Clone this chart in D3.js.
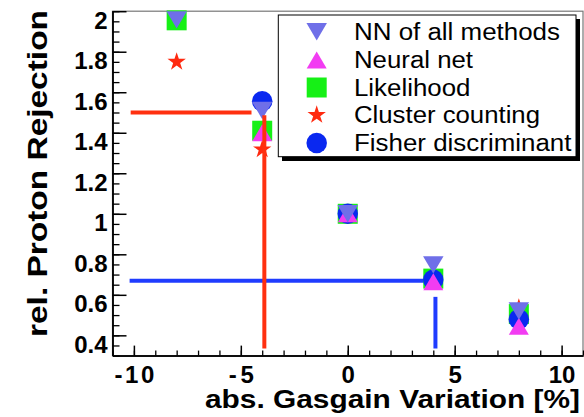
<!DOCTYPE html>
<html>
<head>
<meta charset="utf-8">
<script src="https://cdn.jsdelivr.net/npm/d3@7"></script>
<style>
  html, body { margin: 0; padding: 0; background: #fff; }
  svg { display: block; font-family: "Liberation Sans", Arial, Helvetica, sans-serif; }
</style>
</head>
<body>
<svg id="chart" width="584" height="417"></svg>
<script>
// ---- data ----
const gasgain = [-8, -4, 0, 4, 8];
const nnAll      = [1.957, 1.51, 1.0, 0.748, 0.52];
const neuralNet  = [null, 1.40, 1.0, 0.665, 0.445];
const likelihood = [1.955, 1.41, 1.0, 0.68, 0.505];
const clusterCnt = [1.75, 1.318, 1.0, 0.70, 0.535];
const fisher     = [null, 1.556, 1.0, 0.675, 0.48];
const seriesNames = ["NN of all methods", "Neural net", "Likelihood", "Cluster counting", "Fisher discriminant"];
const xTicks = [-10, -5, 0, 5, 10];
const yTicks = [0.4, 0.6, 0.8, 1, 1.2, 1.4, 1.6, 1.8, 2];
// guide lines (data coordinates)
const redH = { y: 1.5, x0: -10.15, x1: -4.5 };
const redV = { x: -3.9, y0: 1.487, y1: 0.335 };
const blueH = { y: 0.669, x0: -10.2, x1: 3.94 };
const blueV = { x: 4.1, y0: 0.59, y1: 0.335 };

// ---- layout ----
const L = 112.5, R = 583, T = 11.2, B = 355.6;
const svg = d3.select("#chart");
const x = d3.scaleLinear().domain([-11, 11]).range([L, R]);
const y = d3.scaleLinear().domain([0.3, 2.0]).range([B, T]);

// frame
svg.append("rect").attr("x", L).attr("y", T).attr("width", R - L).attr("height", B - T)
  .attr("fill", "none").attr("stroke", "#777").attr("stroke-width", 1.2);

// custom marker shapes (bbox-centred like ROOT)
const sqr = { draw(c, s) { const h = Math.sqrt(s) / 2; c.rect(-h, -h, 2 * h, 2 * h); } };
const triUp = { draw(c, s) { const w = Math.sqrt(s), h = w * 0.85; c.moveTo(0, -h / 2); c.lineTo(w / 2, h / 2); c.lineTo(-w / 2, h / 2); c.closePath(); } };
const triDn = { draw(c, s) { const w = Math.sqrt(s), h = w * 0.85; c.moveTo(0, h / 2); c.lineTo(w / 2, -h / 2); c.lineTo(-w / 2, -h / 2); c.closePath(); } };

const styles = [
  { data: nnAll,      type: triDn,           size: 420, color: "#6f6fe8" },
  { data: neuralNet,  type: triUp,           size: 400, color: "#f23cf2" },
  { data: likelihood, type: sqr,             size: 400, color: "#16f016" },
  { data: clusterCnt, type: d3.symbolStar,   size: 105, color: "#ff2a10" },
  { data: fisher,     type: d3.symbolCircle, size: 330, color: "#0a28f0" }
];
// drawing order: star, square, circle, triangle up, triangle down
const drawOrder = [3, 2, 4, 1, 0];

// blue guide lines under markers
const blueG = svg.append("g").attr("stroke", "#1f3cff").attr("stroke-width", 4);
blueG.append("line").attr("x1", x(blueH.x0)).attr("x2", x(blueH.x1)).attr("y1", y(blueH.y)).attr("y2", y(blueH.y));
blueG.append("line").attr("x1", x(blueV.x)).attr("x2", x(blueV.x)).attr("y1", y(blueV.y0)).attr("y2", y(blueV.y1));

// markers
drawOrder.forEach(i => {
  const st = styles[i];
  const pts = gasgain.map((g, k) => ({ g, v: st.data[k] })).filter(d => d.v !== null);
  svg.append("g").selectAll("path").data(pts).join("path")
    .attr("transform", d => `translate(${x(d.g)},${y(d.v)})`)
    .attr("d", d3.symbol().type(st.type).size(st.size))
    .attr("fill", st.color);
});

// red guide lines on top
const redG = svg.append("g").attr("stroke", "#ff3010").attr("stroke-width", 4);
redG.append("line").attr("x1", x(redH.x0)).attr("x2", x(redH.x1)).attr("y1", y(redH.y)).attr("y2", y(redH.y));
redG.append("line").attr("x1", x(redV.x)).attr("x2", x(redV.x)).attr("y1", y(redV.y0)).attr("y2", y(redV.y1));

// axes
const labelFont = (g) => g.selectAll("text").attr("font-size", 24).attr("font-weight", "bold")
  .attr("fill", "#000").attr("font-family", "Liberation Sans, Arial, sans-serif");

const xMinor = d3.range(-11, 12, 1);
svg.append("g").attr("transform", `translate(0,${B})`)
  .call(d3.axisBottom(x).tickValues(xMinor).tickSize(-5).tickSizeOuter(0).tickFormat(""))
  .call(g => g.selectAll("line,path").attr("stroke", "#000").attr("stroke-width", 1.3));
svg.append("g").attr("transform", `translate(0,${B})`)
  .call(d3.axisBottom(x).tickValues(xTicks).tickSize(-10).tickSizeOuter(0).tickFormat(d => String(d)))
  .call(g => g.selectAll("line,path").attr("stroke", "#000").attr("stroke-width", 1.5))
  .call(labelFont)
  .call(g => g.selectAll("text").attr("dy", "0.71em").attr("y", 10.5))
  .call(g => g.selectAll("text").filter(d => d < 0).attr("textLength", d => d === -10 ? 40 : 25).attr("lengthAdjust", "spacing"));

const yMinor = d3.range(0.3, 2.0001, 0.05);
svg.append("g").attr("transform", `translate(${L},0)`)
  .call(d3.axisLeft(y).tickValues(yMinor).tickSize(-7).tickSizeOuter(0).tickFormat(""))
  .call(g => g.selectAll("line,path").attr("stroke", "#000").attr("stroke-width", 1.3));
svg.append("g").attr("transform", `translate(${L},0)`)
  .call(d3.axisLeft(y).tickValues(yTicks).tickSize(-14).tickSizeOuter(0).tickFormat(d => String(d)))
  .call(g => g.selectAll("line,path").attr("stroke", "#000").attr("stroke-width", 1.5))
  .call(labelFont)
  .call(g => g.selectAll("text").attr("dy", "0.7em").attr("x", -5));

// axis titles
svg.append("text").attr("x", 580).attr("y", 408).attr("text-anchor", "end")
  .attr("font-size", 25).attr("font-weight", "bold")
  .attr("textLength", 375).attr("lengthAdjust", "spacingAndGlyphs")
  .text("abs. Gasgain Variation [%]");
svg.append("text").attr("transform", "translate(46.5,337) rotate(-90)").attr("text-anchor", "start")
  .attr("font-size", 28).attr("font-weight", "bold")
  .attr("textLength", 327).attr("lengthAdjust", "spacingAndGlyphs")
  .text("rel. Proton Rejection");

// legend
const lg = svg.append("g");
lg.append("rect").attr("x", 282).attr("y", 19).attr("width", 298).attr("height", 142).attr("fill", "#000");
lg.append("rect").attr("x", 278.3).attr("y", 15).attr("width", 297.7).attr("height", 141.7)
  .attr("fill", "#fff").attr("stroke", "#000").attr("stroke-width", 1);
const rowY = [31.7, 60, 87.5, 115, 143];
const legendLen = [206, 119, 116.4, 186, 217.4];
seriesNames.forEach((name, i) => {
  const st = styles[i];
  lg.append("path").attr("transform", `translate(316.7,${rowY[i]})`)
    .attr("d", d3.symbol().type(st.type).size(st.size)).attr("fill", st.color);
  lg.append("text").attr("x", 354).attr("y", rowY[i] + 8.3).attr("font-size", 23).attr("fill", "#000")
    .attr("textLength", legendLen[i]).attr("lengthAdjust", "spacingAndGlyphs").text(name);
});
</script>
</body>
</html>
